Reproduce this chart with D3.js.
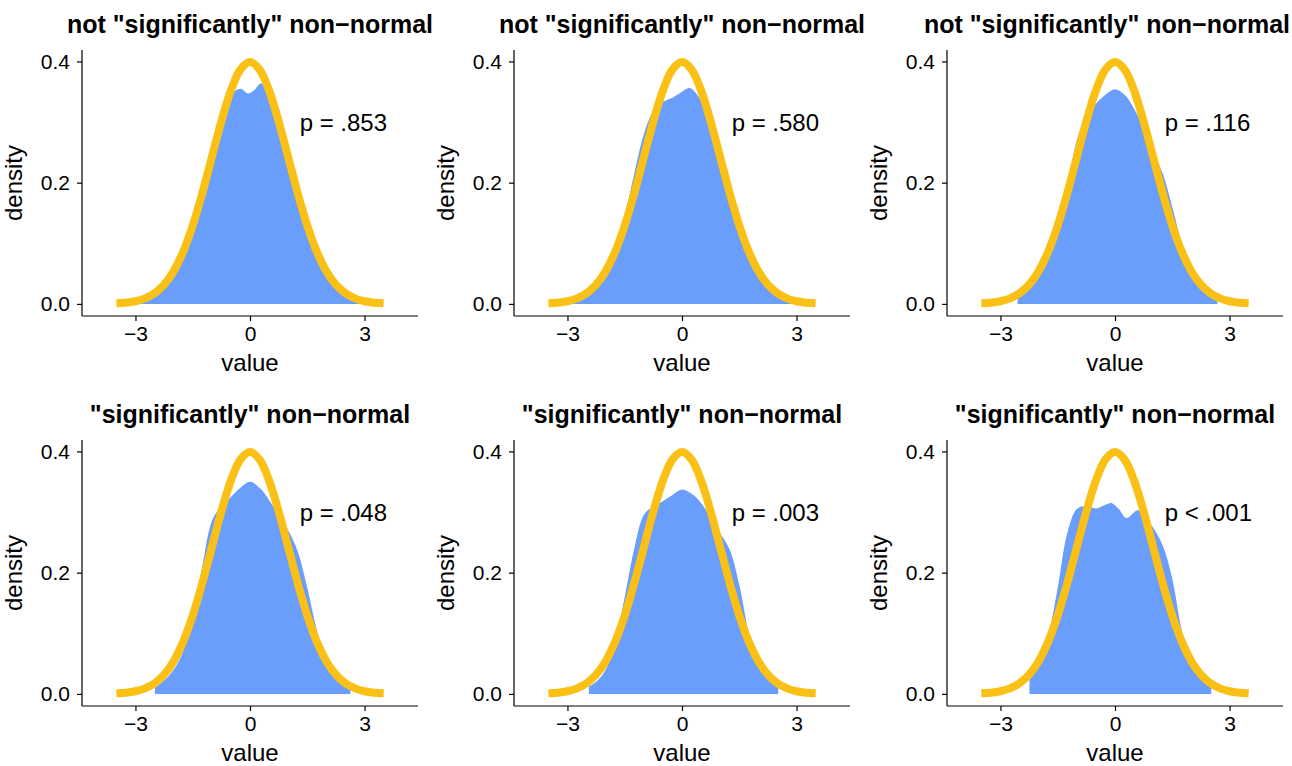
<!DOCTYPE html>
<html>
<head>
<meta charset="utf-8">
<script src="https://cdn.jsdelivr.net/npm/d3@7"></script>
<style>
  body { margin: 0; background: #fff; }
  svg { display: block; font-family: "Liberation Sans", Arial, Helvetica, sans-serif; }
</style>
</head>
<body>
<svg id="chart" width="1292" height="766"></svg>
<script>
// --- Data ---
const titles = [
  'not "significantly" non\u2212normal', 'not "significantly" non\u2212normal', 'not "significantly" non\u2212normal',
  '"significantly" non\u2212normal', '"significantly" non\u2212normal', '"significantly" non\u2212normal'
];
const pLabels = ['p = .853', 'p = .580', 'p = .116', 'p = .048', 'p = .003', 'p < .001'];

// reference normal curve (standard normal density)
const normX = [-3.5, -3.25, -3, -2.75, -2.5, -2.25, -2, -1.75, -1.5, -1.25, -1, -0.75, -0.5, -0.25, 0,
               0.25, 0.5, 0.75, 1, 1.25, 1.5, 1.75, 2, 2.25, 2.5, 2.75, 3, 3.25, 3.5];
const normY = [0.0009, 0.0020, 0.0044, 0.0091, 0.0175, 0.0317, 0.0540, 0.0863, 0.1295, 0.1826, 0.2420, 0.3011, 0.3521, 0.3867, 0.3989,
               0.3867, 0.3521, 0.3011, 0.2420, 0.1826, 0.1295, 0.0863, 0.0540, 0.0317, 0.0175, 0.0091, 0.0044, 0.0020, 0.0009];

// sample densities
const dens1X = [-3.0, -2.75, -2.5, -2.25, -2, -1.75, -1.5, -1.25, -1, -0.75, -0.5, -0.25, -0.05, 0.1, 0.3, 0.5, 0.75, 1, 1.25, 1.5, 1.75, 2, 2.25, 2.5, 2.75, 3.0];
const dens1Y = [0.003, 0.008, 0.016, 0.030, 0.052, 0.085, 0.128, 0.185, 0.250, 0.315, 0.345, 0.355, 0.347, 0.352, 0.364, 0.350, 0.300, 0.235, 0.170, 0.115, 0.075, 0.045, 0.027, 0.014, 0.006, 0.002];

const dens2X = [-3.0, -2.75, -2.5, -2.25, -2, -1.75, -1.5, -1.25, -1, -0.75, -0.5, -0.25, 0, 0.2, 0.5, 0.75, 1, 1.25, 1.5, 1.75, 2, 2.25, 2.5, 2.75, 3.0];
const dens2Y = [0.004, 0.009, 0.018, 0.032, 0.055, 0.090, 0.145, 0.215, 0.280, 0.318, 0.333, 0.340, 0.350, 0.356, 0.335, 0.290, 0.235, 0.185, 0.128, 0.082, 0.048, 0.028, 0.015, 0.007, 0.002];

const dens3X = [-2.55, -2.25, -2, -1.75, -1.5, -1.25, -1, -0.75, -0.5, -0.25, 0, 0.25, 0.5, 0.75, 1, 1.25, 1.5, 1.75, 2, 2.25, 2.5, 2.68];
const dens3Y = [0.012, 0.025, 0.045, 0.075, 0.120, 0.190, 0.270, 0.310, 0.330, 0.345, 0.354, 0.345, 0.322, 0.290, 0.250, 0.215, 0.160, 0.100, 0.055, 0.030, 0.015, 0.009];

const dens4X = [-2.49, -2.25, -2, -1.75, -1.5, -1.25, -1, -0.75, -0.5, -0.25, 0, 0.25, 0.5, 0.75, 1, 1.25, 1.5, 1.75, 2, 2.25, 2.5, 2.63];
const dens4Y = [0.010, 0.022, 0.040, 0.070, 0.130, 0.210, 0.285, 0.310, 0.325, 0.340, 0.350, 0.340, 0.320, 0.295, 0.270, 0.235, 0.175, 0.105, 0.055, 0.030, 0.015, 0.010];

const dens5X = [-2.44, -2.25, -2, -1.75, -1.5, -1.25, -1, -0.75, -0.5, -0.25, 0, 0.25, 0.5, 0.75, 1, 1.25, 1.5, 1.75, 2, 2.25, 2.52];
const dens5Y = [0.012, 0.020, 0.040, 0.085, 0.160, 0.240, 0.295, 0.310, 0.318, 0.328, 0.337, 0.330, 0.315, 0.290, 0.265, 0.238, 0.180, 0.100, 0.050, 0.025, 0.010];

const dens6X = [-2.24, -2, -1.75, -1.5, -1.25, -1, -0.75, -0.5, -0.25, -0.1, 0.1, 0.3, 0.6, 0.9, 1.25, 1.5, 1.75, 2, 2.25, 2.52];
const dens6Y = [0.025, 0.050, 0.095, 0.175, 0.265, 0.305, 0.310, 0.306, 0.312, 0.315, 0.305, 0.290, 0.303, 0.283, 0.245, 0.190, 0.105, 0.055, 0.030, 0.015];

const densX = [dens1X, dens2X, dens3X, dens4X, dens5X, dens6X];
const densY = [dens1Y, dens2Y, dens3Y, dens4Y, dens5Y, dens6Y];

const xTicks = [-3, 0, 3];
const yTicks = [0, 0.2, 0.4];
const pLabelPos = [1.3, 0.3];

// --- Layout ---
const SVG_W = 1292;
const colLeft = [82, 514, 947];
const rowTop = [50, 440];
const plotW = 336, plotH = 266;
const FILL = '#699efd', LINE = '#fbc015';

const svg = d3.select('#chart');

titles.forEach((title, i) => {
  const left = colLeft[i % 3], top = rowTop[Math.floor(i / 3)];
  const g = svg.append('g').attr('transform', `translate(${left},${top})`);

  const x = d3.scaleLinear().domain([-4.4, 4.4]).range([0, plotW]);
  const y = d3.scaleLinear().domain([-0.01995, 0.41885]).range([plotH, 0]);

  // density area
  const pts = densX[i].map((v, k) => [v, densY[i][k]]);
  g.append('path')
    .datum(pts)
    .attr('fill', FILL)
    .attr('d', d3.area().x(d => x(d[0])).y0(y(0)).y1(d => y(d[1])).curve(d3.curveCatmullRom));

  // normal curve
  const npts = normX.map((v, k) => [v, normY[k]]);
  g.append('path')
    .datum(npts)
    .attr('fill', 'none')
    .attr('stroke', LINE)
    .attr('stroke-width', 8)
    .attr('d', d3.line().x(d => x(d[0])).y(d => y(d[1])).curve(d3.curveCatmullRom));

  // p-value label
  g.append('text')
    .attr('x', x(pLabelPos[0])).attr('y', y(pLabelPos[1]))
    .attr('dominant-baseline', 'central')
    .attr('font-size', 24)
    .attr('fill', '#000')
    .text(pLabels[i]);

  // axes
  const xAxis = g.append('g').attr('transform', `translate(0,${plotH})`)
    .call(d3.axisBottom(x).tickValues(xTicks).tickSize(5).tickPadding(5)
      .tickFormat(d => d < 0 ? '\u2212' + Math.abs(d) : d));
  const yAxis = g.append('g')
    .call(d3.axisLeft(y).tickValues(yTicks).tickSize(5).tickPadding(7).tickFormat(d3.format('.1f')));
  [xAxis, yAxis].forEach(a => {
    a.select('.domain').attr('stroke', '#000').attr('stroke-width', 1.2)
      .attr('d', a === xAxis ? `M0,0H${plotW}` : `M0,0V${plotH}`);
    a.selectAll('.tick line').attr('stroke', '#000').attr('stroke-width', 1.2);
    a.selectAll('.tick text').attr('fill', '#000').attr('font-size', 21)
      .attr('font-family', '"Liberation Sans", Arial, Helvetica, sans-serif');
  });

  // axis titles
  g.append('text')
    .attr('x', plotW / 2).attr('y', plotH + 55)
    .attr('text-anchor', 'middle').attr('font-size', 24)
    .text('value');
  g.append('text')
    .attr('transform', `translate(${-60},${plotH / 2}) rotate(-90)`)
    .attr('text-anchor', 'middle').attr('font-size', 24)
    .text('density');

  // panel title, nudged left if it would run past the right edge
  const t = g.append('text')
    .attr('x', plotW / 2).attr('y', -17)
    .attr('text-anchor', 'middle').attr('font-size', 25).attr('font-weight', 'bold')
    .text(title);
  const tw = t.node().getComputedTextLength();
  const maxCx = SVG_W - left - tw / 2 - 2;
  if (plotW / 2 > maxCx) t.attr('x', maxCx);
});
</script>
</body>
</html>
